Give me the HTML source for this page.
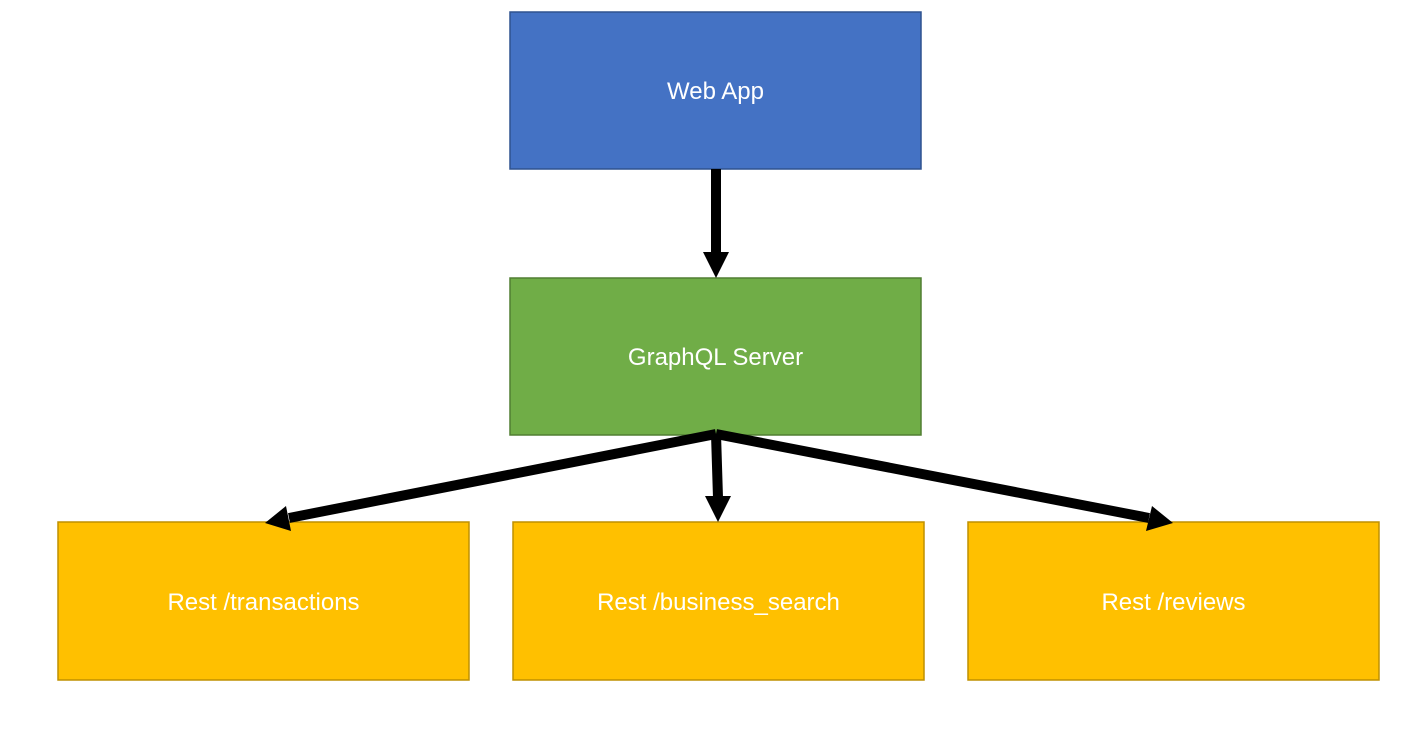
<!DOCTYPE html>
<html><head><style>
html,body{margin:0;padding:0;background:#fff;width:1427px;height:740px;overflow:hidden}
</style></head><body>
<svg width="1427" height="740" xmlns="http://www.w3.org/2000/svg" font-family="'Liberation Sans', sans-serif" font-size="24">
<rect x="510" y="12" width="411" height="157" fill="#4472C4" stroke="#2F528F" stroke-width="1.5"/>
<text x="715.5" y="99" fill="#fff" text-anchor="middle">Web App</text>
<rect x="510" y="278" width="411" height="157" fill="#70AD47" stroke="#507E32" stroke-width="1.5"/>
<text x="715.5" y="365" fill="#fff" text-anchor="middle">GraphQL Server</text>
<g fill="#FFC000" stroke="#BF9000" stroke-width="1.5">
<rect x="58" y="522" width="411" height="158"/>
<rect x="513" y="522" width="411" height="158"/>
<rect x="968" y="522" width="411" height="158"/>
</g>
<g fill="#fff" text-anchor="middle">
<text x="263.5" y="610">Rest /transactions</text>
<text x="718.5" y="610">Rest /business_search</text>
<text x="1173.5" y="610">Rest /reviews</text>
</g>
<g stroke="#000" stroke-width="10" fill="none">
<line x1="716" y1="169" x2="716" y2="254"/>
<line x1="716" y1="434" x2="718" y2="498"/>
<line x1="716" y1="434" x2="289" y2="518"/>
<line x1="716" y1="434" x2="1149" y2="518"/>
</g>
<g fill="#000">
<polygon points="703,252 729,252 716,278"/>
<polygon points="705,496 731,496 718,522"/>
<polygon points="265,523 286,506 291,531"/>
<polygon points="1173,523 1146,531 1152,506"/>
</g>
</svg>
</body></html>
